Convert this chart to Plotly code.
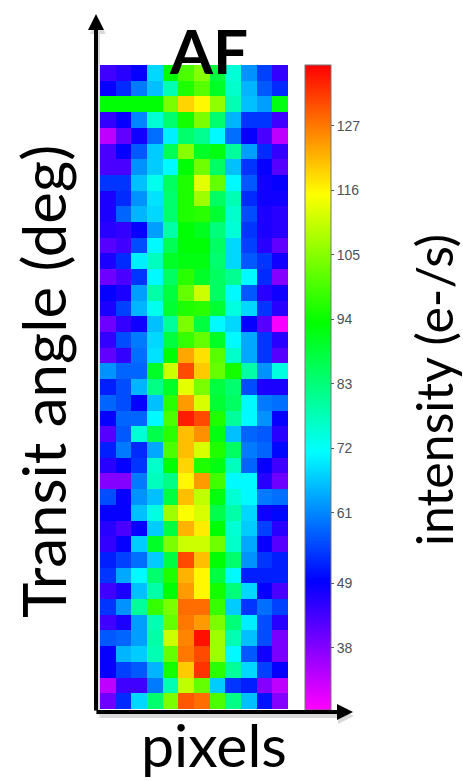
import plotly.graph_objects as go

W, H = 463, 781
rows = [
 [44,46,49,68,93,100,105,88,75,62,55,45],
 [49,53,60,66,78,96,101,90,76,65,57,53],
 [93,93,93,93,104,119,116,106,78,66,63,92],
 [45,49,61,75,84,95,104,84,65,54,54,44],
 [33,41,48,59,70,84,81,71,59,49,43,33],
 [43,49,57,67,86,105,90,92,80,63,53,45],
 [43,43,62,67,71,93,103,85,66,54,49,42],
 [54,54,66,73,85,96,113,102,71,57,48,49],
 [47,53,62,69,84,96,107,85,78,53,48,48],
 [47,58,65,68,84,96,97,89,76,56,47,46],
 [46,45,49,63,79,93,91,83,75,54,47,46],
 [42,44,56,71,86,93,93,85,68,55,46,41],
 [47,53,70,77,90,92,92,84,68,57,54,48],
 [40,43,54,71,85,97,90,85,81,71,53,38],
 [49,47,63,79,88,102,111,85,71,57,46,48],
 [47,55,65,73,89,96,97,89,74,68,54,46],
 [40,45,48,66,80,104,88,71,68,49,42,28],
 [45,56,60,68,88,98,102,90,71,64,54,46],
 [41,45,59,69,93,123,118,101,76,64,54,42],
 [62,58,58,90,111,131,120,102,95,79,62,74],
 [52,56,65,82,90,113,104,88,84,56,47,47],
 [58,56,49,66,97,124,112,89,85,71,60,59],
 [49,58,58,71,100,135,131,96,80,71,62,49],
 [42,57,75,87,97,121,125,92,66,58,57,46],
 [52,60,53,64,100,121,112,96,85,60,58,50],
 [46,49,54,76,93,119,96,92,77,58,49,44],
 [38,38,60,77,82,116,124,99,71,71,46,40],
 [56,49,62,66,88,121,110,92,75,71,60,59],
 [49,49,66,74,107,115,112,87,79,68,48,50],
 [46,43,49,67,88,122,117,93,75,67,55,46],
 [45,49,67,90,104,111,111,103,76,64,49,42],
 [52,55,59,67,88,131,121,93,84,62,54,52],
 [54,64,71,84,96,122,116,88,71,52,52,52],
 [44,47,66,79,93,124,116,95,83,68,49,43],
 [54,62,80,98,104,128,128,98,67,54,59,55],
 [44,47,63,78,102,127,124,104,83,70,56,46],
 [57,58,63,79,111,126,136,107,78,66,56,39],
 [49,65,67,78,102,127,131,107,71,57,48,39],
 [49,55,57,65,95,120,133,97,80,68,55,49],
 [33,44,44,60,78,110,102,67,54,52,38,33],
 [40,53,68,84,104,130,128,100,82,66,51,38],
]
tick_vals = [38, 49, 61, 72, 83, 94, 105, 116, 127]
z_min, z_max = 27.4, 137.4
colors = [[0, "#ff00ff"], [0.2, "#0000ff"], [0.4, "#00ffff"],
          [0.6, "#00ff00"], [0.8, "#ffff00"], [1, "#ff0000"]]
title_text = "AF"
x_title = "pixels"
y_title = "Transit angle (deg)"
cb_title = "intensity (e-/s)"

fig = go.Figure(go.Heatmap(
    z=rows, zmin=z_min, zmax=z_max, colorscale=colors, zsmooth=False, xgap=0, ygap=0,
    colorbar=dict(
        x=305/W, xanchor="left", y=1-710/H, yanchor="bottom", len=645/H, lenmode="fraction",
        thickness=26, thicknessmode="pixels", tickvals=tick_vals, ticks="outside", ticklen=3,
        tickprefix="\u00a0\u00a0",
        tickcolor="#555", tickfont=dict(family="Liberation Sans", size=14, color="#4a5260"),
        outlinecolor="#777", outlinewidth=1, xpad=0, ypad=0),
))
fig.update_layout(
    width=W, height=H, margin=dict(l=0, r=0, t=0, b=0),
    paper_bgcolor="white", plot_bgcolor="white", showlegend=False,
    xaxis=dict(domain=[100/W, 288/W], visible=False, constrain="domain"),
    yaxis=dict(domain=[1-709/H, 1-65/H], visible=False, autorange="reversed"),
)
def arrow(x0, y0, x1, y1, color, width):
    fig.add_annotation(xref="paper", yref="paper", axref="pixel", ayref="pixel",
        x=x1/W, y=1-y1/H, ax=x0-x1, ay=y0-y1, text="", showarrow=True,
        arrowhead=2, arrowsize=0.8, arrowwidth=width, arrowcolor=color)
arrow(98, 716, 98, 18, "rgba(0,0,0,0.15)", 4)
arrow(98, 716, 354, 716, "rgba(0,0,0,0.15)", 4)
arrow(96, 712, 96, 14, "black", 4)
arrow(95, 712, 353, 712, "black", 4)
def label(text, x, y, size, angle=0, bold=False):
    fig.add_annotation(xref="paper", yref="paper", x=x/W, y=1-y/H, text=f"<b>{text}</b>" if bold else text,
        showarrow=False, textangle=angle, xanchor="center", yanchor="middle",
        font=dict(family="Lato", size=size, color="black"))
label(title_text, 208, 50, 62, bold=True)
label(x_title, 214, 744, 59)
label(y_title, 43, 382, 60, angle=-90)
label(cb_title, 434, 390, 50, angle=-90)
fig.write_html("out.html", config={"displayModeBar": False},
               post_script="document.body.style.margin='0';document.body.style.overflow='hidden';")
